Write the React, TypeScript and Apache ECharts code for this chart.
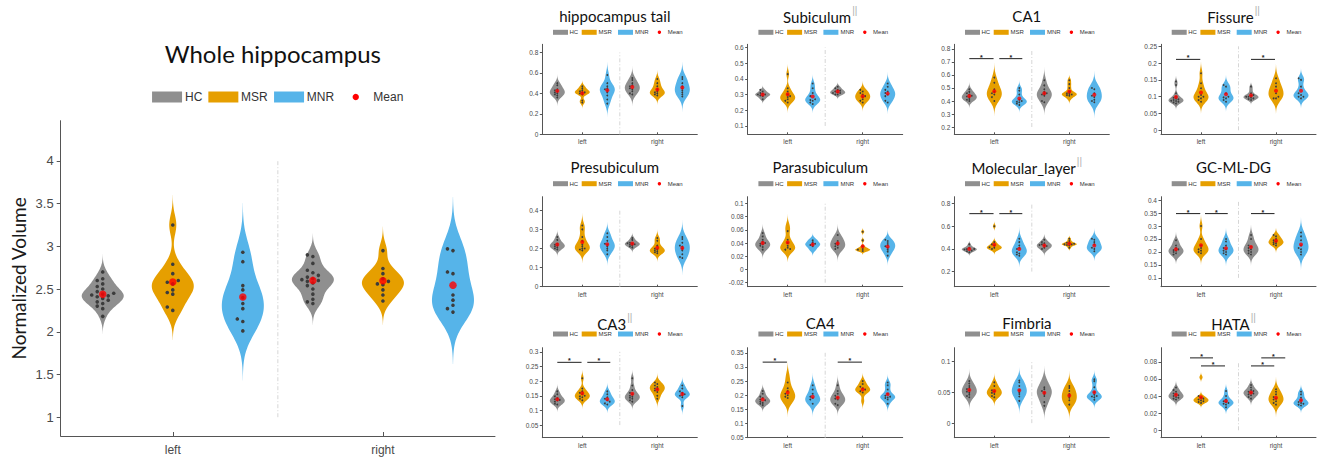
import React, { useEffect, useRef } from "react";
import * as echarts from "echarts";

const GROUPS = ["HC", "MSR", "MNR"];
const SIDES = ["left", "right"];
const GROUP_COLORS = ["#8f8f8f", "#e69f00", "#56b4e9"];
const MEAN_COLOR = "#ff0000";
const DOT_COLOR = "#3c3c3c";

// Order of each list: [HC left, MSR left, MNR left, HC right, MSR right, MNR right]
const wholeHippocampus = [
  [2.70, 2.62, 2.60, 2.56, 2.53, 2.50, 2.47, 2.45, 2.44, 2.43, 2.42, 2.41, 2.39, 2.37, 2.35, 2.33, 2.30, 2.27, 2.18],
  [3.25, 2.79, 2.68, 2.60, 2.58, 2.56, 2.49, 2.46, 2.44, 2.29, 2.25],
  [2.93, 2.82, 2.54, 2.49, 2.40, 2.33, 2.27, 2.15, 2.12, 2.01],
  [2.90, 2.88, 2.80, 2.72, 2.69, 2.66, 2.64, 2.62, 2.61, 2.60, 2.59, 2.57, 2.54, 2.50, 2.44, 2.38, 2.35, 2.33],
  [2.95, 2.74, 2.68, 2.62, 2.59, 2.56, 2.55, 2.49, 2.43, 2.36],
  [2.97, 2.95, 2.70, 2.68, 2.43, 2.37, 2.31, 2.27, 2.23],
];
const hippocampusTail = [
  [0.50, 0.48, 0.46, 0.44, 0.43, 0.42, 0.41, 0.40, 0.39, 0.38, 0.36],
  [0.47, 0.45, 0.43, 0.42, 0.41, 0.41, 0.40, 0.39, 0.33, 0.31],
  [0.58, 0.50, 0.47, 0.45, 0.44, 0.43, 0.41, 0.38, 0.34, 0.30],
  [0.55, 0.53, 0.50, 0.48, 0.47, 0.46, 0.45, 0.44, 0.42, 0.40, 0.39],
  [0.54, 0.50, 0.47, 0.44, 0.42, 0.41, 0.40, 0.39, 0.38],
  [0.56, 0.54, 0.50, 0.47, 0.45, 0.43, 0.41, 0.39, 0.37],
];
const subiculum = [
  [0.33, 0.32, 0.31, 0.305, 0.30, 0.30, 0.295, 0.29, 0.28, 0.27],
  [0.43, 0.34, 0.32, 0.30, 0.29, 0.285, 0.28, 0.27, 0.26, 0.25],
  [0.37, 0.34, 0.31, 0.29, 0.28, 0.27, 0.265, 0.26, 0.25, 0.24],
  [0.35, 0.34, 0.33, 0.325, 0.32, 0.315, 0.31, 0.31, 0.30, 0.30],
  [0.33, 0.32, 0.31, 0.30, 0.29, 0.285, 0.28, 0.27, 0.26, 0.25],
  [0.37, 0.35, 0.33, 0.32, 0.31, 0.30, 0.29, 0.28, 0.26, 0.25],
];
const ca1 = [
  [0.49, 0.47, 0.46, 0.45, 0.44, 0.435, 0.43, 0.42, 0.415, 0.41, 0.40],
  [0.58, 0.54, 0.51, 0.49, 0.47, 0.46, 0.45, 0.43, 0.42, 0.40],
  [0.50, 0.48, 0.45, 0.42, 0.41, 0.40, 0.395, 0.39, 0.38, 0.37],
  [0.56, 0.52, 0.49, 0.47, 0.46, 0.455, 0.45, 0.44, 0.42, 0.40, 0.39],
  [0.56, 0.53, 0.50, 0.47, 0.46, 0.455, 0.45, 0.445, 0.44, 0.42],
  [0.51, 0.50, 0.49, 0.46, 0.44, 0.43, 0.41, 0.40, 0.39],
];
const fissure = [
  [0.145, 0.135, 0.11, 0.10, 0.097, 0.094, 0.092, 0.09, 0.088, 0.087, 0.085, 0.083, 0.08],
  [0.17, 0.14, 0.125, 0.115, 0.105, 0.10, 0.10, 0.095, 0.09, 0.085],
  [0.135, 0.13, 0.12, 0.11, 0.10, 0.098, 0.095, 0.09, 0.085],
  [0.13, 0.12, 0.11, 0.105, 0.103, 0.10, 0.10, 0.097, 0.095, 0.093, 0.09],
  [0.155, 0.14, 0.13, 0.12, 0.115, 0.11, 0.10, 0.095, 0.095],
  [0.155, 0.15, 0.13, 0.115, 0.11, 0.105, 0.10, 0.10, 0.095],
];
const presubiculum = [
  [0.26, 0.245, 0.235, 0.225, 0.22, 0.218, 0.215, 0.21, 0.205, 0.20, 0.195],
  [0.32, 0.30, 0.26, 0.24, 0.22, 0.21, 0.20, 0.20, 0.195, 0.19],
  [0.28, 0.26, 0.24, 0.225, 0.22, 0.21, 0.20, 0.19, 0.17],
  [0.255, 0.245, 0.235, 0.23, 0.227, 0.225, 0.222, 0.22, 0.215, 0.21, 0.205],
  [0.255, 0.24, 0.215, 0.20, 0.195, 0.19, 0.185, 0.18, 0.175],
  [0.26, 0.25, 0.23, 0.215, 0.21, 0.20, 0.19, 0.17, 0.155, 0.15],
];
const parasubiculum = [
  [0.055, 0.05, 0.045, 0.042, 0.04, 0.039, 0.038, 0.036, 0.034, 0.032, 0.03],
  [0.066, 0.058, 0.045, 0.04, 0.036, 0.033, 0.031, 0.03, 0.029],
  [0.046, 0.044, 0.041, 0.039, 0.038, 0.037, 0.035, 0.032, 0.029],
  [0.052, 0.049, 0.046, 0.043, 0.04, 0.039, 0.037, 0.035, 0.033, 0.031, 0.029],
  [0.057, 0.044, 0.035, 0.032, 0.031, 0.03, 0.029, 0.029, 0.028],
  [0.045, 0.043, 0.04, 0.037, 0.035, 0.033, 0.03, 0.027, 0.021],
];
const molecularLayer = [
  [0.44, 0.42, 0.41, 0.405, 0.40, 0.398, 0.395, 0.39, 0.385, 0.38, 0.37],
  [0.60, 0.46, 0.44, 0.43, 0.42, 0.415, 0.41, 0.405, 0.40, 0.39],
  [0.49, 0.46, 0.43, 0.41, 0.40, 0.39, 0.37, 0.36, 0.35, 0.34],
  [0.48, 0.46, 0.45, 0.44, 0.435, 0.43, 0.425, 0.42, 0.41, 0.40, 0.39],
  [0.49, 0.47, 0.455, 0.45, 0.445, 0.44, 0.44, 0.435, 0.43, 0.41],
  [0.49, 0.48, 0.46, 0.44, 0.42, 0.41, 0.40, 0.39, 0.38],
];
const gcMlDg = [
  [0.245, 0.235, 0.225, 0.215, 0.21, 0.207, 0.205, 0.20, 0.195, 0.19, 0.185],
  [0.30, 0.25, 0.235, 0.225, 0.215, 0.21, 0.205, 0.20, 0.195],
  [0.25, 0.24, 0.225, 0.215, 0.21, 0.205, 0.20, 0.195, 0.19],
  [0.265, 0.25, 0.235, 0.225, 0.22, 0.215, 0.21, 0.205, 0.20, 0.195, 0.19],
  [0.265, 0.26, 0.25, 0.245, 0.24, 0.237, 0.233, 0.23, 0.225],
  [0.275, 0.26, 0.245, 0.235, 0.225, 0.215, 0.21, 0.20, 0.19],
];
const ca3 = [
  [0.165, 0.155, 0.148, 0.142, 0.138, 0.136, 0.134, 0.13, 0.127, 0.123, 0.12],
  [0.21, 0.175, 0.165, 0.16, 0.155, 0.15, 0.148, 0.145, 0.14, 0.135],
  [0.165, 0.155, 0.145, 0.14, 0.135, 0.13, 0.127, 0.124, 0.12],
  [0.21, 0.185, 0.17, 0.16, 0.155, 0.15, 0.147, 0.143, 0.14, 0.135, 0.13],
  [0.195, 0.19, 0.185, 0.18, 0.175, 0.172, 0.168, 0.163, 0.15, 0.14],
  [0.185, 0.175, 0.165, 0.16, 0.155, 0.152, 0.15, 0.145, 0.115],
];
const ca4 = [
  [0.215, 0.205, 0.195, 0.19, 0.185, 0.182, 0.18, 0.177, 0.173, 0.17, 0.165],
  [0.27, 0.245, 0.225, 0.215, 0.205, 0.20, 0.195, 0.19, 0.18, 0.175],
  [0.235, 0.22, 0.205, 0.195, 0.19, 0.185, 0.18, 0.175, 0.17],
  [0.235, 0.215, 0.205, 0.198, 0.192, 0.188, 0.185, 0.18, 0.175, 0.17, 0.165],
  [0.25, 0.24, 0.23, 0.225, 0.22, 0.217, 0.214, 0.21, 0.18],
  [0.245, 0.235, 0.22, 0.205, 0.198, 0.195, 0.192, 0.19, 0.185, 0.17],
];
const fimbria = [
  [0.068, 0.064, 0.06, 0.057, 0.055, 0.053, 0.051, 0.049, 0.046, 0.044, 0.042],
  [0.066, 0.06, 0.056, 0.053, 0.051, 0.049, 0.047, 0.044, 0.042],
  [0.069, 0.066, 0.06, 0.056, 0.053, 0.05, 0.047, 0.043, 0.036],
  [0.07, 0.063, 0.058, 0.055, 0.052, 0.05, 0.047, 0.044, 0.04, 0.034, 0.028],
  [0.06, 0.057, 0.052, 0.047, 0.044, 0.041, 0.037, 0.033, 0.03],
  [0.071, 0.068, 0.058, 0.05, 0.046, 0.044, 0.043, 0.042, 0.04, 0.038],
];
const hata = [
  [0.05, 0.047, 0.045, 0.043, 0.042, 0.041, 0.04, 0.039, 0.038, 0.037, 0.036],
  [0.062, 0.04, 0.038, 0.037, 0.036, 0.035, 0.034, 0.033, 0.032],
  [0.046, 0.04, 0.036, 0.034, 0.033, 0.032, 0.031, 0.03, 0.027],
  [0.053, 0.05, 0.047, 0.046, 0.045, 0.044, 0.043, 0.042, 0.041, 0.039, 0.037],
  [0.048, 0.045, 0.042, 0.039, 0.037, 0.036, 0.034, 0.032, 0.03],
  [0.045, 0.042, 0.038, 0.035, 0.033, 0.032, 0.031, 0.03, 0.029],
];

// y tick labels
const wholeTicks = [1, 1.5, 2, 2.5, 3, 3.5, 4];
const tailTicks = [0, 0.2, 0.4, 0.6, 0.8];
const subiculumTicks = [0.1, 0.2, 0.3, 0.4, 0.5, 0.6];
const ca1Ticks = [0.2, 0.3, 0.4, 0.5, 0.6, 0.7, 0.8];
const fissureTicks = [0, 0.05, 0.1, 0.15, 0.2, 0.25];
const presubTicks = [0, 0.1, 0.2, 0.3, 0.4];
const parasubTicks = [-0.02, 0, 0.02, 0.04, 0.06, 0.08, 0.1];
const molecularTicks = [0.2, 0.4, 0.6, 0.8];
const gcTicks = [0.1, 0.15, 0.2, 0.25, 0.3, 0.35, 0.4];
const ca3Ticks = [0.05, 0.1, 0.15, 0.2, 0.25, 0.3];
const ca4Ticks = [0.05, 0.1, 0.15, 0.2, 0.25, 0.3, 0.35];
const fimbriaTicks = [0, 0.05, 0.1];
const hataTicks = [0, 0.02, 0.04, 0.06, 0.08];

// significance bars: [x from, x to, y]
const ca1Sig = [[1, 1.97, 0.726], [2.2, 3.12, 0.726]];
const fissureSig = [[1, 1.97, 0.211], [4, 4.96, 0.211]];
const molecularSig = [[1, 1.97, 0.711], [2.2, 3.12, 0.711]];
const gcSig = [[1, 1.97, 0.348], [2.16, 3.07, 0.348], [4, 4.94, 0.348]];
const ca3Sig = [[1, 1.97, 0.264], [2.2, 3.12, 0.264]];
const ca4Sig = [[1, 1.97, 0.317], [4, 4.97, 0.317]];
const hataSig = [[1.56, 2.48, 0.0847], [2.0, 2.96, 0.0753], [4.41, 5.37, 0.0847], [4.0, 4.93, 0.0753]];

const PANELS = [
  { title: "Whole hippocampus", sup: false, data: wholeHippocampus, yRange: [0.78, 4.47], ticks: wholeTicks, sig: [] as number[][] },
  { title: "hippocampus tail", sup: false, data: hippocampusTail, yRange: [0, 0.88], ticks: tailTicks, sig: [] as number[][] },
  { title: "Subiculum", sup: true, data: subiculum, yRange: [0.047, 0.62], ticks: subiculumTicks, sig: [] as number[][] },
  { title: "CA1", sup: false, data: ca1, yRange: [0.144, 0.836], ticks: ca1Ticks, sig: ca1Sig },
  { title: "Fissure", sup: true, data: fissure, yRange: [-0.012, 0.256], ticks: fissureTicks, sig: fissureSig },
  { title: "Presubiculum", sup: false, data: presubiculum, yRange: [0, 0.471], ticks: presubTicks, sig: [] as number[][] },
  { title: "Parasubiculum", sup: false, data: parasubiculum, yRange: [-0.026, 0.11], ticks: parasubTicks, sig: [] as number[][] },
  { title: "Molecular_layer", sup: true, data: molecularLayer, yRange: [0.067, 0.86], ticks: molecularTicks, sig: molecularSig },
  { title: "GC-ML-DG", sup: false, data: gcMlDg, yRange: [0.066, 0.413], ticks: gcTicks, sig: gcSig },
  { title: "CA3", sup: true, data: ca3, yRange: [0.007, 0.314], ticks: ca3Ticks, sig: ca3Sig },
  { title: "CA4", sup: false, data: ca4, yRange: [0.05, 0.368], ticks: ca4Ticks, sig: ca4Sig },
  { title: "Fimbria", sup: false, data: fimbria, yRange: [-0.0235, 0.122], ticks: fimbriaTicks, sig: [] as number[][] },
  { title: "HATA", sup: true, data: hata, yRange: [-0.0087, 0.0966], ticks: hataTicks, sig: hataSig },
];

// layout
const BIG = { left: 60.7, top: 120.7, width: 434.3, height: 315.3 };
const COL_X = [542.3, 747.7, 954.3, 1161];
const ROW_Y = [44.3, 196.7, 347.7];
const SMALL_W = 155;
const SMALL_H = 90;
const ROW_TITLE_Y = [15, 166, 321.7];
const ROW_LEGEND_Y = [32.3, 183.7, 334];
const HALF_WIDTH = 0.3;
const AXIS_COLOR = "#555555";
const LABEL_COLOR = "#4a4a4a";
const TICK_FONT = "Liberation Sans";
const TITLE_FONT = "Lato";

function median(sorted: number[]) {
  const n = sorted.length;
  return n % 2 ? sorted[(n - 1) / 2] : (sorted[n / 2 - 1] + sorted[n / 2]) / 2;
}

// Gaussian kernel density, MATLAB ksdensity default bandwidth
function density(vals: number[]) {
  const s = [...vals].sort((a, b) => a - b);
  const n = s.length;
  const med = median(s);
  const dev = s.map((v) => Math.abs(v - med)).sort((a, b) => a - b);
  let sig = median(dev) / 0.6745;
  if (sig <= 0) sig = s[n - 1] - s[0];
  const h = sig * Math.pow(4 / (3 * n), 0.2);
  const lo = s[0] - 3 * h;
  const hi = s[n - 1] + 3 * h;
  const ys: number[] = [];
  const ds: number[] = [];
  for (let i = 0; i < 100; i++) {
    const y = lo + ((hi - lo) * i) / 99;
    let d = 0;
    for (const v of s) d += Math.exp(-0.5 * ((y - v) / h) ** 2);
    ys.push(y);
    ds.push(d);
  }
  const mx = Math.max(...ds);
  return { ys, ws: ds.map((d) => d / mx) };
}

function swarmSlots(vals: number[], eps: number) {
  const order = vals.map((v, i) => [v, i]).sort((a, b) => a[0] - b[0]);
  const placed: number[][] = [];
  const slots = new Array(vals.length).fill(0);
  for (const [v, i] of order) {
    for (const k of [0, -1, 1, -2, 2, -3, 3]) {
      if (!placed.some(([pv, pk]) => pk === k && Math.abs(pv - v) < eps)) {
        slots[i] = k;
        placed.push([v, k]);
        break;
      }
    }
  }
  return slots;
}

const mean = (a: number[]) => a.reduce((s, v) => s + v, 0) / a.length;

function buildOption() {
  const grid: any[] = [];
  const xAxis: any[] = [];
  const yAxis: any[] = [];
  const series: any[] = [];
  const graphics: any[] = [];

  PANELS.forEach((panel, p) => {
    const big = p === 0;
    const col = (p - 1) % 4;
    const row = Math.floor((p - 1) / 4);
    const r = big
      ? BIG
      : { left: COL_X[col], top: ROW_Y[row], width: SMALL_W, height: SMALL_H };
    grid.push({ left: r.left, top: r.top, width: r.width, height: r.height });

    xAxis.push({
      gridIndex: p,
      type: "value",
      min: 0.4,
      max: 6.6,
      axisLine: { show: true, onZero: false, lineStyle: { color: AXIS_COLOR, width: 1 } },
      axisTick: { show: true, inside: true, customValues: [2, 5], length: big ? 4 : 2, lineStyle: { color: AXIS_COLOR } },
      axisLabel: {
        show: true,
        customValues: [2, 5],
        formatter: (v: number) => SIDES[v < 3.5 ? 0 : 1],
        fontSize: big ? 12 : 6.5,
        fontFamily: TICK_FONT,
        color: LABEL_COLOR,
        margin: big ? 8 : 4,
      },
      splitLine: { show: false },
    });

    yAxis.push({
      gridIndex: p,
      type: "value",
      min: panel.yRange[0],
      max: panel.yRange[1],
      axisLine: { show: true, onZero: false, lineStyle: { color: AXIS_COLOR, width: 1 } },
      axisTick: { show: true, customValues: panel.ticks, length: big ? 4 : 2.5, lineStyle: { color: AXIS_COLOR } },
      axisLabel: {
        show: true,
        customValues: panel.ticks,
        formatter: (v: number) => String(v),
        fontSize: big ? 13 : 6.5,
        fontFamily: TICK_FONT,
        color: LABEL_COLOR,
        margin: big ? 7 : 4,
      },
      splitLine: { show: false },
      ...(big
        ? {
            name: "Normalized Volume",
            nameLocation: "middle",
            nameGap: 33,
            nameTextStyle: { fontFamily: TITLE_FONT, fontSize: 19, color: "#1a1a1a" },
          }
        : {}),
    });

    const profiles = panel.data.map((vals) => density(vals));
    const means = panel.data.map((vals) => mean(vals));
    const pxPerUnit = r.height / (panel.yRange[1] - panel.yRange[0]);

    // violins
    GROUPS.forEach((gName, g) => {
      series.push({
        type: "custom",
        name: gName,
        xAxisIndex: p,
        yAxisIndex: p,
        clip: true,
        silent: true,
        itemStyle: { color: GROUP_COLORS[g] },
        data: [0, 1].map((s) => [1 + g + 3 * s, means[s * 3 + g]]),
        renderItem: (params: any, api: any) => {
          const s = params.dataIndex;
          const prof = profiles[s * 3 + g];
          const xc = api.value(0);
          const right = prof.ys.map((y, i) => api.coord([xc + HALF_WIDTH * prof.ws[i], y]));
          const left = prof.ys.map((y, i) => api.coord([xc - HALF_WIDTH * prof.ws[i], y])).reverse();
          return {
            type: "polygon",
            shape: { points: right.concat(left) },
            style: { fill: GROUP_COLORS[g] },
          };
        },
      });
    });

    // divider between hemispheres
    series.push({
      type: "custom",
      name: "divider",
      xAxisIndex: p,
      yAxisIndex: p,
      silent: true,
      data: [[3.5, panel.ticks[0], panel.ticks[panel.ticks.length - 1]]],
      renderItem: (params: any, api: any) => {
        const a = api.coord([api.value(0), api.value(1)]);
        const b = api.coord([api.value(0), api.value(2)]);
        return {
          type: "line",
          shape: { x1: a[0], y1: a[1], x2: b[0], y2: b[1] },
          style: { stroke: "#d6d6d6", lineWidth: 1, lineDash: [4, 2, 1, 2] },
        };
      },
    });

    // individual subjects
    const epsPx = big ? 3.5 : 1.8;
    const pts: number[][] = [];
    panel.data.forEach((vals, k) => {
      const x = 1 + (k % 3) + 3 * Math.floor(k / 3);
      const slots = swarmSlots(vals, epsPx / pxPerUnit);
      vals.forEach((v, i) => pts.push([x, v, slots[i]]));
    });
    const spacing = big ? 5.5 : 2.4;
    const dotR = big ? 1.8 : 0.9;
    series.push({
      type: "custom",
      name: "subjects",
      xAxisIndex: p,
      yAxisIndex: p,
      silent: true,
      data: pts,
      renderItem: (params: any, api: any) => {
        const c = api.coord([api.value(0), api.value(1)]);
        return {
          type: "circle",
          shape: { cx: c[0] + api.value(2) * spacing, cy: c[1], r: dotR },
          style: { fill: DOT_COLOR },
        };
      },
    });

    // means
    series.push({
      type: "scatter",
      name: "Mean",
      xAxisIndex: p,
      yAxisIndex: p,
      silent: true,
      symbol: "circle",
      symbolSize: big ? 7.5 : 4,
      itemStyle: { color: MEAN_COLOR },
      data: means.map((m, k) => [1 + (k % 3) + 3 * Math.floor(k / 3), m]),
    });

    // significance bars
    if (panel.sig.length) {
      series.push({
        type: "custom",
        name: "significance",
        xAxisIndex: p,
        yAxisIndex: p,
        silent: true,
        data: panel.sig,
        renderItem: (params: any, api: any) => {
          const a = api.coord([api.value(0), api.value(2)]);
          const b = api.coord([api.value(1), api.value(2)]);
          return {
            type: "group",
            children: [
              {
                type: "line",
                shape: { x1: a[0], y1: a[1], x2: b[0], y2: b[1] },
                style: { stroke: "#333333", lineWidth: 1.1 },
              },
              {
                type: "text",
                x: (a[0] + b[0]) / 2,
                y: a[1] - 1.5,
                style: {
                  text: "*",
                  fontSize: 7,
                  fontFamily: TICK_FONT,
                  fontWeight: "bold",
                  fill: "#222222",
                  align: "center",
                  verticalAlign: "middle",
                },
              },
            ],
          };
        },
      });
    }

    // title
    const tSize = big ? 24 : 15;
    const supSize = big ? 14 : 10;
    const cx = r.left + r.width / 2 - 5;
    const cy = big ? 52 : ROW_TITLE_Y[row];
    graphics.push({
      type: "text",
      x: cx,
      y: cy,
      silent: true,
      style: {
        text: panel.sup ? `{t|${panel.title}}{s|||}` : `{t|${panel.title}}`,
        align: "center",
        verticalAlign: "middle",
        rich: {
          t: { fontSize: tSize, fontFamily: TITLE_FONT, fill: "#111111", color: "#111111", lineHeight: tSize * 1.15, verticalAlign: "bottom" },
          s: { fontSize: supSize, fontFamily: TICK_FONT, fill: "#b0b0b0", color: "#b0b0b0", verticalAlign: "top", padding: [0, 0, 9, 1] },
        },
      },
    });

    // legend
    const lc = r.left + r.width / 2 - (big ? 0.5 : 1.5);
    const ly = big ? 97 : ROW_LEGEND_Y[row];
    const L = lc - (big ? 125.3 : 65.3);
    const rectOff = big ? [0, 56.3, 122] : [0, 28.7, 65];
    const textOff = big ? [33, 89, 154.7] : [16.5, 45.5, 82];
    const rw = big ? 30 : 15;
    const rh = big ? 11 : 5;
    const lFont = big ? 12 : 6;
    GROUPS.forEach((gName, g) => {
      graphics.push({
        type: "rect",
        silent: true,
        shape: { x: L + rectOff[g], y: ly - rh / 2, width: rw, height: rh },
        style: { fill: GROUP_COLORS[g] },
      });
      graphics.push({
        type: "text",
        silent: true,
        x: L + textOff[g],
        y: ly,
        style: { text: gName, fontSize: lFont, fontFamily: TICK_FONT, fill: "#333333", align: "left", verticalAlign: "middle" },
      });
    });
    graphics.push({
      type: "circle",
      silent: true,
      shape: { cx: L + (big ? 203.7 : 106.4), cy: ly, r: big ? 3.2 : 1.7 },
      style: { fill: MEAN_COLOR },
    });
    graphics.push({
      type: "text",
      silent: true,
      x: L + (big ? 221.3 : 114.7),
      y: ly,
      style: { text: "Mean", fontSize: lFont, fontFamily: TICK_FONT, fill: "#333333", align: "left", verticalAlign: "middle" },
    });
  });

  return {
    animation: false,
    backgroundColor: "#ffffff",
    grid,
    xAxis,
    yAxis,
    series,
    graphic: { elements: graphics },
  };
}

export default function App() {
  const ref = useRef<HTMLDivElement>(null);
  useEffect(() => {
    const chart = echarts.init(ref.current as HTMLDivElement, undefined, { renderer: "svg" });
    chart.setOption(buildOption() as any);
    return () => chart.dispose();
  }, []);
  return (
    <div
      ref={ref}
      style={{ position: "absolute", left: 0, top: 0, width: 1317, height: 457, background: "#ffffff" }}
    />
  );
}
